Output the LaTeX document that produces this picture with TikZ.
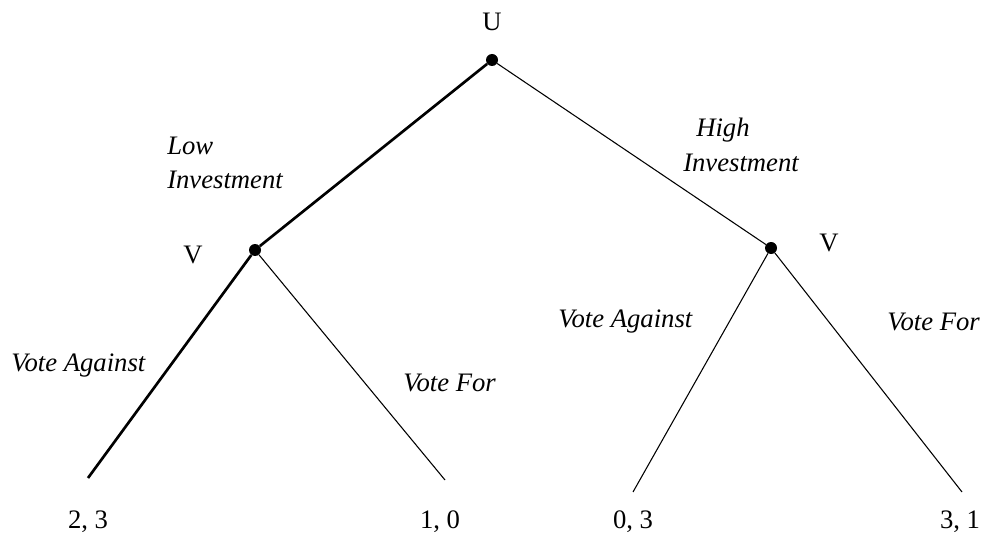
\documentclass[tikz,border=0pt]{standalone}
\usepackage{fontspec}
\setmainfont{Liberation Serif}
\usepackage{tikz}

\begin{document}
\begin{tikzpicture}[x=0.75pt,y=0.75pt,yscale=-1,xscale=1,
  dot/.style={circle,fill=black,inner sep=0pt,minimum size=9pt},
  thin edge/.style={line width=0.8pt},
  bold edge/.style={line width=2pt},
  lbl/.style={inner sep=0.75pt,font=\fontsize{20}{24}\selectfont},
  move/.style={inner sep=0.75pt,font=\fontsize{20}{24}\selectfont\itshape}]
\useasboundingbox (0,0) rectangle (984,538);

%Shape: Circle [id:root]
\node [dot] (u) at (492,60) {};
%Shape: Circle [id:left vote]
\node [dot] (vl) at (255,250) {};
%Shape: Circle [id:right vote]
\node [dot] (vr) at (771,248) {};
%leaf ends
\coordinate (leafa) at (88,478);
\coordinate (leafb) at (445,480);
\coordinate (leafc) at (633,492);
\coordinate (leafd) at (962,492);

%Straight Lines
\draw [bold edge] (u) -- (vl);
\draw [thin edge] (u) -- (vr);
\draw [bold edge] (vl) -- (leafa);
\draw [thin edge] (vl) -- (leafb);
\draw [thin edge] (vr) -- (leafc);
\draw [thin edge] (vr) -- (leafd);

% Text Node
\draw (492,22) node [lbl] (ulbl) {U};
% Text Node
\draw (193,255) node [lbl] (vllbl) {V};
% Text Node
\draw (829,243) node [lbl] (vrlbl) {V};
% Text Node
\draw (166,146) node [move,anchor=west] (lowa) {Low};
% Text Node
\draw (166,180) node [move,anchor=west] (lowb) {Investment};
% Text Node
\draw (695,130) node [move,anchor=west] (higha) {High};
% Text Node
\draw (682,163) node [move,anchor=west] (highb) {Investment};
% Text Node
\draw (10,366) node [move,anchor=west] (againstl) {Vote Against};
% Text Node
\draw (402,383) node [move,anchor=west] (forl) {Vote For};
% Text Node
\draw (557,322) node [move,anchor=west] (againstr) {Vote Against};
% Text Node
\draw (886,322) node [move,anchor=west] (forr) {Vote For};
% Text Node
\draw (88,522) node [lbl] (paya) {2, 3};
% Text Node
\draw (440,522) node [lbl] (payb) {1, 0};
% Text Node
\draw (633,522) node [lbl] (payc) {0, 3};
% Text Node
\draw (960,522) node [lbl] (payd) {3, 1};

\end{tikzpicture}
\end{document}
